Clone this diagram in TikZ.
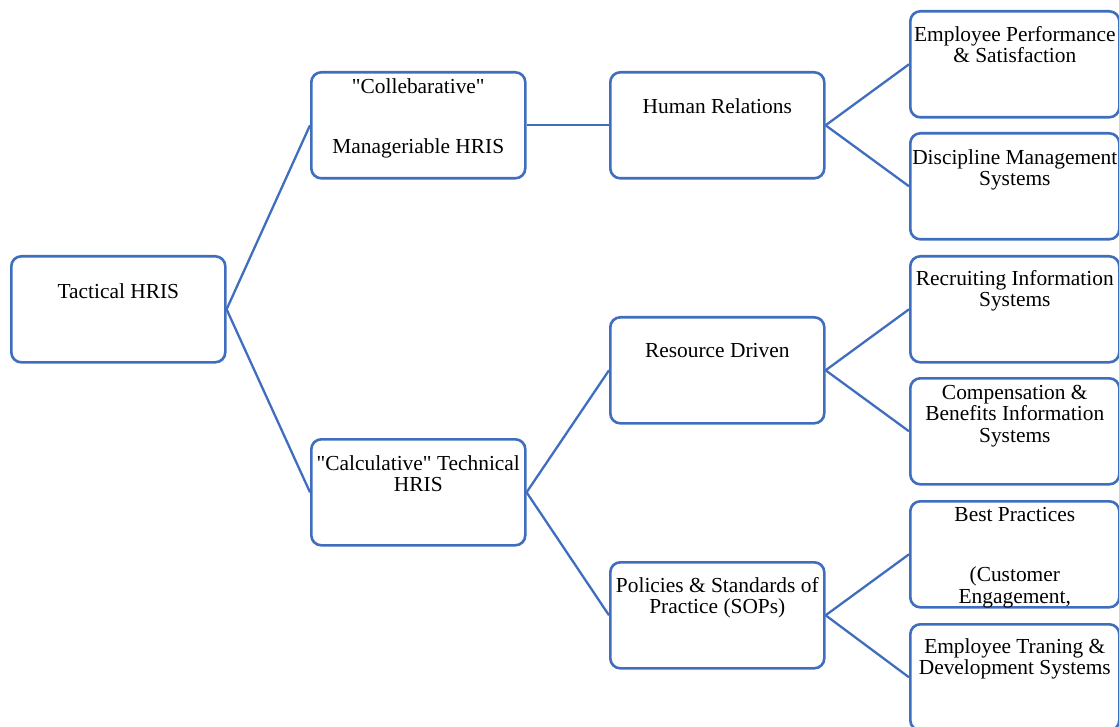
\documentclass[tikz,border=0pt]{standalone}
\usepackage{fontspec}
\setmainfont[Ligatures=TeXOff]{Liberation Serif}
\definecolor{hrblue}{RGB}{64,110,190}
\begin{document}
\begin{tikzpicture}[x=1pt,y=-1pt,
  box/.style={draw=hrblue,line width=2.6pt,rounded corners=10pt,fill=white,
    minimum width=214pt,minimum height=106pt,anchor=north west,inner sep=0pt},
  rbox/.style={box,minimum width=209pt},
  txt/.style={anchor=north,align=center,inner sep=0pt,
    font=\fontsize{21.4}{21.5}\selectfont},
  link/.style={draw=hrblue,line width=2.3pt}]
\useasboundingbox (0,0) rectangle (1119,727);

% boxes, one per level
\node[box] (tac) at (10,255) {};
\node[box] (col) at (310,71) {};
\node[box] (cal) at (310,438) {};
\node[box] (hum) at (609,71) {};
\node[box] (res) at (609,316) {};
\node[box] (pol) at (609,561) {};
\node[rbox] (emp) at (909,10) {};
\node[rbox] (dis) at (909,132) {};
\node[rbox] (rec) at (909,255) {};
\node[rbox] (com) at (909,377) {};
\node[rbox] (bes) at (909,500) {};
\node[rbox] (tra) at (909,623) {};

% connectors
\draw[link] (tac.east) -- (col.west);
\draw[link] (tac.east) -- (cal.west);
\draw[link] (col.east) -- (hum.west);
\draw[link] (cal.east) -- (res.west);
\draw[link] (cal.east) -- (pol.west);
\draw[link] (hum.east) -- (emp.west);
\draw[link] (hum.east) -- (dis.west);
\draw[link] (res.east) -- (rec.west);
\draw[link] (res.east) -- (com.west);
\draw[link] (pol.east) -- (bes.west);
\draw[link] (pol.east) -- (tra.west);

% labels
\node[txt] (ttac) at ([yshift=-28pt]tac.north) {Tactical HRIS};
\node[txt] (tcol) at ([yshift=-7pt]col.north) {"Collebarative"\\[39pt]Manageriable HRIS};
\node[txt] (tcal) at ([yshift=-17pt]cal.north) {"Calculative" Technical\\HRIS};
\node[txt] (thum) at ([yshift=-27pt]hum.north) {Human Relations};
\node[txt] (tres) at ([yshift=-27pt]res.north) {Resource Driven};
\node[txt] (tpol) at ([yshift=-16pt]pol.north) {Policies \& Standards of\\Practice (SOPs)};
\node[txt] (temp) at ([yshift=-16pt]emp.north) {Employee Performance\\\& Satisfaction};
\node[txt] (tdis) at ([yshift=-17pt]dis.north) {Discipline Management\\Systems};
\node[txt] (trec) at ([yshift=-15pt]rec.north) {Recruiting Information\\Systems};
\node[txt] (tcom) at ([yshift=-8pt]com.north) {Compensation \&\\Benefits Information\\Systems};
\begin{scope}
  \clip ([xshift=2pt,yshift=2pt]bes.north west) rectangle ([xshift=-2pt,yshift=-1pt]bes.south east);
  \node[txt] (tbes) at ([yshift=-7pt]bes.north) {Best Practices\\[39pt](Customer\\Engagement,};
\end{scope}
\node[txt] (ttra) at ([yshift=-15pt]tra.north) {Employee Traning \&\\Development Systems};
\end{tikzpicture}
\end{document}
